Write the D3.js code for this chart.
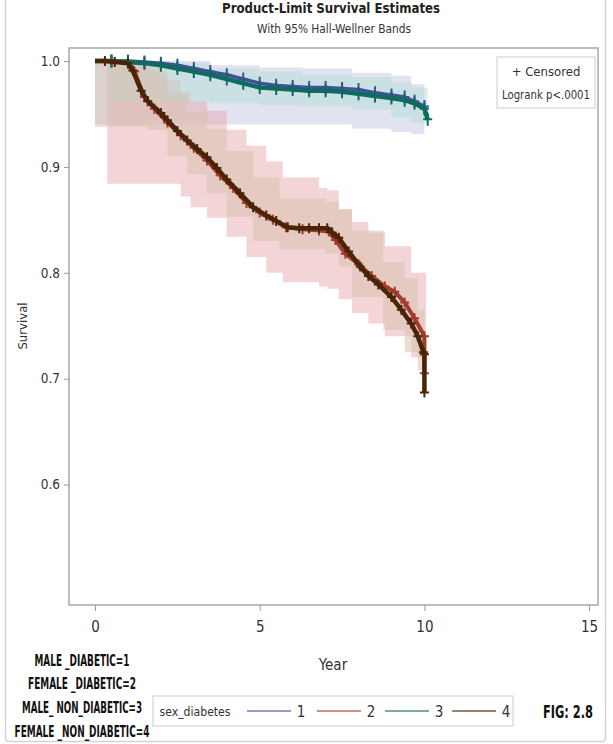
<!DOCTYPE html>
<html><head><meta charset="utf-8">
<script src="https://cdn.jsdelivr.net/npm/d3@7"></script>
<style>body{margin:0;background:#fff}svg{display:block}</style>
</head><body>
<svg id="chart" width="613" height="744"></svg>
<script>
// ---- data -------------------------------------------------------------
const groups = ["1", "2", "3", "4"];
const groupNames = ["MALE _DIABETIC=1", "FEMALE _DIABETIC=2", "MALE_ NON_DIABETIC=3", "FEMALE _NON_DIABETIC=4"];
const xTicks = [0, 5, 10, 15];
const yTicks = [0.6, 0.7, 0.8, 0.9, 1.0];

// Kaplan-Meier survival estimates per group: [year, survival]
const km1 = [[0,1],[0.5,1],[1,1],[1.5,0.999],[2,0.998],[2.5,0.996],[3,0.993],[3.5,0.99],[4,0.987],[4.5,0.983],[5,0.979],[5.5,0.977],[6,0.976],[6.5,0.975],[7,0.975],[7.5,0.974],[8,0.973],[8.5,0.97],[9,0.968],[9.4,0.966],[9.7,0.962],[10,0.957]];
const km2 = [[0,1],[0.5,1],[1,0.998],[1.2,0.99],[1.5,0.966],[1.8,0.955],[2.2,0.942],[2.6,0.93],[3,0.918],[3.4,0.906],[3.8,0.892],[4.2,0.88],[4.6,0.866],[5,0.857],[5.4,0.85],[5.8,0.843],[6.3,0.841],[6.8,0.84],[7.1,0.839],[7.3,0.831],[7.6,0.818],[8,0.808],[8.4,0.797],[8.8,0.787],[9.1,0.782],[9.4,0.772],[9.7,0.757],[10,0.74],[10,0.705]];
const km3 = [[0,1],[0.5,1],[1,0.999],[1.5,0.998],[2,0.996],[2.5,0.993],[3,0.99],[3.5,0.987],[4,0.983],[4.5,0.979],[5,0.975],[5.5,0.974],[6,0.973],[6.5,0.972],[7,0.972],[7.5,0.971],[8,0.969],[8.5,0.967],[9,0.965],[9.4,0.963],[9.7,0.96],[10,0.955],[10.1,0.945]];
const km4 = [[0,1],[0.3,1],[0.6,0.999],[1,0.998],[1.15,0.991],[1.4,0.972],[1.6,0.962],[2,0.951],[2.2,0.944],[2.5,0.934],[2.8,0.925],[3.1,0.917],[3.4,0.909],[3.7,0.899],[4,0.888],[4.4,0.875],[4.8,0.862],[5.2,0.854],[5.5,0.849],[5.85,0.843],[6.2,0.842],[6.5,0.842],[6.8,0.842],[7.05,0.842],[7.2,0.838],[7.4,0.833],[7.7,0.82],[8.05,0.806],[8.3,0.797],[8.6,0.789],[9,0.777],[9.3,0.765],[9.6,0.752],[9.8,0.74],[9.97,0.725],[10,0.723],[10,0.687]];

// Hall-Wellner confidence bands per group: [year, lower, upper]
const hw1 = [[0,0.94,1],[2,0.94,1],[3.5,0.94,0.996],[5,0.94,0.994],[6.3,0.94,0.993],[7.8,0.936,0.989],[9,0.933,0.986],[9.6,0.931,0.978],[10,0.928,0.965]];
const hw2 = [[0.37,0.884,1],[1.3,0.884,1],[2,0.884,0.985],[2.2,0.884,0.982],[2.6,0.872,0.97],[2.9,0.862,0.962],[3.4,0.852,0.953],[4,0.834,0.935],[4.6,0.815,0.92],[5.2,0.8,0.905],[5.7,0.791,0.89],[6.8,0.787,0.88],[7.05,0.785,0.878],[7.4,0.775,0.86],[7.8,0.762,0.848],[8.3,0.752,0.838],[8.8,0.74,0.825],[9.6,0.72,0.8],[10.05,0.69,0.78]];
const hw3 = [[0.37,0.962,1],[1.5,0.962,1],[2.5,0.962,0.998],[3.5,0.96,0.993],[5,0.958,0.99],[6.3,0.957,0.987],[7.8,0.954,0.985],[9,0.947,0.98],[9.6,0.942,0.975],[10.1,0.935,0.962]];
const hw4 = [[0,0.938,1],[1.3,0.938,1],[1.6,0.935,0.99],[2.2,0.91,0.97],[2.8,0.893,0.952],[3.4,0.875,0.936],[4,0.853,0.915],[4.8,0.83,0.89],[5.6,0.822,0.87],[7,0.818,0.867],[7.4,0.806,0.86],[7.8,0.777,0.84],[8.75,0.746,0.81],[9.4,0.725,0.795],[9.8,0.708,0.765],[10,0.692,0.755]];

const curves = [km1, km2, km3, km4];
const bands = [hw1, hw2, hw3, hw4];
const lineColors = ["#42509a", "#a23a2e", "#0d6b60", "#4a2406"];
const bandColors = ["#c3c8e3", "#e8a9b0", "#b6ddd6", "#d8c0ac"];

// ---- layout -----------------------------------------------------------
const svg = d3.select("#chart");
const frame = {left: 69, top: 48, right: 598, bottom: 605};
const x = d3.scaleLinear().domain([-0.79, 15.27]).range([frame.left, frame.right]);
const y = d3.scaleLinear().domain([0.4862, 1.0123]).range([frame.bottom, frame.top]);
const narrow = "'Liberation Sans Narrow','DejaVu Sans Condensed','Arial Narrow',sans-serif";

// horizontally condensed text: drawn at natural size inside a squeezed group
function condensed(parent, cx, cy, str, width, sx, attrs) {
  const g = parent.append("g").attr("transform", `translate(${cx},${cy}) scale(${sx},1)`);
  const t = g.append("text").attr("x", 0).attr("y", 0).attr("text-anchor", "middle")
    .attr("textLength", width / sx).attr("lengthAdjust", "spacingAndGlyphs").text(str);
  Object.entries(attrs).forEach(([k, v]) => t.attr(k, v));
  return t;
}

// outer border
svg.append("rect").attr("x", 5.5).attr("y", -6).attr("width", 600).attr("height", 747.5)
  .attr("fill", "none").attr("stroke", "#d4d4d4").attr("stroke-width", 1.5).attr("rx", 3);

// titles
condensed(svg, 331, 13, "Product-Limit Survival Estimates", 218, 0.8,
  {"font-family": narrow, "font-weight": "bold", "font-size": 14, "fill": "#222"});
condensed(svg, 334, 33, "With 95% Hall-Wellner Bands", 154, 0.82,
  {"font-family": narrow, "font-size": 12.5, "fill": "#333"});

// clip to the plot frame
svg.append("defs").append("clipPath").attr("id", "plotClip")
  .append("rect").attr("x", frame.left).attr("y", frame.top)
  .attr("width", frame.right - frame.left).attr("height", frame.bottom - frame.top);
const plot = svg.append("g").attr("clip-path", "url(#plotClip)");

// confidence bands (step functions)
const bandArea = d3.area().curve(d3.curveStepAfter)
  .x(d => x(d[0])).y0(d => y(d[1])).y1(d => y(d[2]));
bands.forEach((b, i) => {
  plot.append("path").attr("d", bandArea(b))
    .attr("fill", bandColors[i]).attr("fill-opacity", 0.5);
});

// survival curves with censor marks
const line = d3.line().x(d => x(d[0])).y(d => y(d[1]));
const strokeW = [3.5, 4, 4.5, 4.5];
curves.forEach((c, i) => {
  const g = plot.append("g");
  g.append("path").attr("d", line(c)).attr("fill", "none")
    .attr("stroke", lineColors[i]).attr("stroke-width", strokeW[i]).attr("stroke-linejoin", "round");
  const marks = c.filter(d => d[0] > 0.2);
  const h = i === 0 || i === 2 ? 6.5 : 5;
  g.selectAll("path.cens").data(marks).join("path").attr("class", "cens")
    .attr("d", d => `M${x(d[0]) - 4.5},${y(d[1])}h9M${x(d[0])},${y(d[1]) - h}v${2 * h}`)
    .attr("stroke", lineColors[i]).attr("stroke-width", 2).attr("fill", "none");
});

// plot frame
svg.append("rect").attr("x", frame.left).attr("y", frame.top)
  .attr("width", frame.right - frame.left).attr("height", frame.bottom - frame.top)
  .attr("fill", "none").attr("stroke", "#a8a8a8").attr("stroke-width", 1.5);

// axes
const yAxis = svg.append("g").attr("transform", `translate(${frame.left},0)`)
  .call(d3.axisLeft(y).tickValues(yTicks).tickFormat(d3.format(".1f")).tickSize(5).tickPadding(4));
const xAxis = svg.append("g").attr("transform", `translate(0,${frame.bottom})`)
  .call(d3.axisBottom(x).tickValues(xTicks).tickFormat(d3.format("d")).tickSize(6).tickPadding(10));
[yAxis, xAxis].forEach(a => {
  a.select(".domain").remove();
  a.selectAll(".tick line").attr("stroke", "#999");
  a.selectAll(".tick text").attr("font-family", narrow).attr("fill", "#333");
});
yAxis.selectAll(".tick text").attr("font-size", 13.5);
xAxis.selectAll(".tick text").attr("font-size", 15);

svg.append("text").attr("transform", "translate(27,326) rotate(-90)").attr("text-anchor", "middle")
  .attr("font-family", narrow).attr("font-size", 13).attr("fill", "#333").text("Survival");
svg.append("text").attr("x", 333).attr("y", 670).attr("text-anchor", "middle")
  .attr("font-family", narrow).attr("font-size", 15).attr("fill", "#333").text("Year");

// inset box
svg.append("rect").attr("x", 497).attr("y", 57).attr("width", 98).attr("height", 51)
  .attr("fill", "#fff").attr("stroke", "#ccc").attr("stroke-width", 1);
svg.append("text").attr("x", 546).attr("y", 76).attr("text-anchor", "middle")
  .attr("font-family", narrow).attr("font-size", 13).attr("fill", "#333").text("+ Censored");
condensed(svg, 546, 99, "Logrank p<.0001", 88, 0.85,
  {"font-family": narrow, "font-size": 13, "fill": "#333"});

// group name key (left side)
const keyY = [666, 689, 713, 737];
const keyW = [95, 108, 120, 135];
groupNames.forEach((n, i) => {
  condensed(svg, 82, keyY[i], n, keyW[i], 0.56,
    {"font-family": narrow, "font-weight": "bold", "font-size": 15, "fill": "#111"});
});

// legend
const legend = svg.append("g");
legend.append("rect").attr("x", 153).attr("y", 696).attr("width", 360).attr("height", 30)
  .attr("fill", "#fff").attr("stroke", "#ccc");
condensed(legend, 195, 716, "sex_diabetes", 71, 0.8,
  {"font-family": narrow, "font-size": 13, "fill": "#333"});
const legX = [247, 317, 385, 452];
groups.forEach((gname, i) => {
  legend.append("line").attr("x1", legX[i]).attr("x2", legX[i] + 44).attr("y1", 711).attr("y2", 711)
    .attr("stroke", lineColors[i]).attr("stroke-width", 1.3).attr("stroke-opacity", 0.75);
  legend.append("text").attr("x", legX[i] + 54).attr("y", 717).attr("text-anchor", "middle")
    .attr("font-family", narrow).attr("font-size", 15).attr("fill", "#333").text(gname);
});

condensed(svg, 568, 718, "FIG: 2.8", 50, 0.7,
  {"font-family": narrow, "font-weight": "bold", "font-size": 18, "fill": "#111"});
</script>
</body></html>
